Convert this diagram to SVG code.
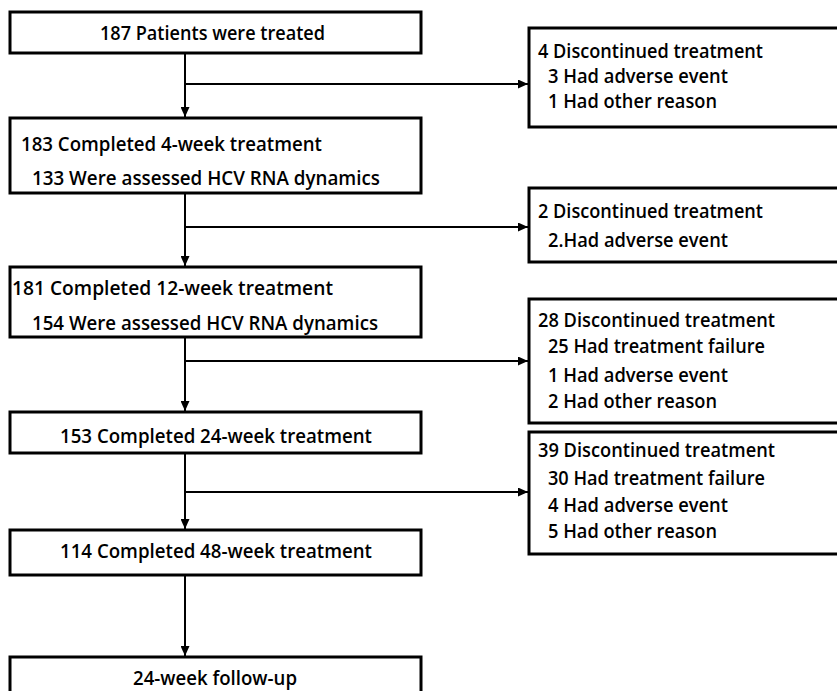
<svg xmlns="http://www.w3.org/2000/svg" width="837" height="691" viewBox="0 0 837 691">
<style>
.box{fill:#fff;stroke:#000;stroke-width:3}
.t{font-family:"Open Sans","Noto Sans","Liberation Sans",sans-serif;font-size:20px;font-weight:600;fill:#000}
.c{fill:none;stroke:#000;stroke-width:2}
</style>
<defs>
<marker id="ah" markerUnits="userSpaceOnUse" markerWidth="10" markerHeight="9" refX="10" refY="4.5" orient="auto">
<path d="M0,0 L10,4.5 L0,9 z" fill="#000"/>
</marker>
</defs>
<rect width="837" height="691" fill="#fff"/>
<g id="connectors">
<path class="c" d="M185,53 V117" marker-end="url(#ah)"/>
<path class="c" d="M185,193 V266" marker-end="url(#ah)"/>
<path class="c" d="M185,337 V411" marker-end="url(#ah)"/>
<path class="c" d="M185,453 V529" marker-end="url(#ah)"/>
<path class="c" d="M185,575 V656" marker-end="url(#ah)"/>
<path class="c" d="M185,84 H528" marker-end="url(#ah)"/>
<path class="c" d="M185,227 H528" marker-end="url(#ah)"/>
<path class="c" d="M185,361 H528" marker-end="url(#ah)"/>
<path class="c" d="M185,492 H528" marker-end="url(#ah)"/>
</g>
<g id="n1"><rect class="box" x="10" y="12" width="411" height="41"/>
<text class="t" x="100" y="40" textLength="225" lengthAdjust="spacingAndGlyphs">187 Patients were treated</text></g>
<g id="n2"><rect class="box" x="10" y="118" width="411" height="75"/>
<text class="t" x="21" y="151" textLength="301" lengthAdjust="spacingAndGlyphs">183 Completed 4-week treatment</text>
<text class="t" x="32" y="185" textLength="348" lengthAdjust="spacingAndGlyphs">133 Were assessed HCV RNA dynamics</text></g>
<g id="n3"><rect class="box" x="10" y="267" width="411" height="70"/>
<text class="t" x="12" y="295" textLength="321" lengthAdjust="spacingAndGlyphs">181 Completed 12-week treatment</text>
<text class="t" x="32" y="330" textLength="346" lengthAdjust="spacingAndGlyphs">154 Were assessed HCV RNA dynamics</text></g>
<g id="n4"><rect class="box" x="10" y="412" width="411" height="41"/>
<text class="t" x="60" y="443" textLength="312" lengthAdjust="spacingAndGlyphs">153 Completed 24-week treatment</text></g>
<g id="n5"><rect class="box" x="10" y="530" width="411" height="45"/>
<text class="t" x="60" y="558" textLength="312" lengthAdjust="spacingAndGlyphs">114 Completed 48-week treatment</text></g>
<g id="n6"><rect class="box" x="10" y="657" width="411" height="50"/>
<text class="t" x="133" y="685" textLength="164" lengthAdjust="spacingAndGlyphs">24-week follow-up</text></g>
<g id="r1"><rect class="box" x="529" y="28" width="320" height="99"/>
<text class="t" x="538" y="58" textLength="225" lengthAdjust="spacingAndGlyphs">4 Discontinued treatment</text>
<text class="t" x="548" y="83" textLength="180" lengthAdjust="spacingAndGlyphs">3 Had adverse event</text>
<text class="t" x="548" y="108" textLength="169" lengthAdjust="spacingAndGlyphs">1 Had other reason</text></g>
<g id="r2"><rect class="box" x="529" y="188" width="320" height="74"/>
<text class="t" x="538" y="218" textLength="225" lengthAdjust="spacingAndGlyphs">2 Discontinued treatment</text>
<text class="t" x="548" y="247" textLength="180" lengthAdjust="spacingAndGlyphs">2.Had adverse event</text></g>
<g id="r3"><rect class="box" x="529" y="299" width="320" height="124"/>
<text class="t" x="538" y="327" textLength="237" lengthAdjust="spacingAndGlyphs">28 Discontinued treatment</text>
<text class="t" x="548" y="353" textLength="217" lengthAdjust="spacingAndGlyphs">25 Had treatment failure</text>
<text class="t" x="548" y="382" textLength="180" lengthAdjust="spacingAndGlyphs">1 Had adverse event</text>
<text class="t" x="548" y="408" textLength="169" lengthAdjust="spacingAndGlyphs">2 Had other reason</text></g>
<g id="r4"><rect class="box" x="529" y="432" width="320" height="122"/>
<text class="t" x="538" y="457" textLength="237" lengthAdjust="spacingAndGlyphs">39 Discontinued treatment</text>
<text class="t" x="548" y="485" textLength="217" lengthAdjust="spacingAndGlyphs">30 Had treatment failure</text>
<text class="t" x="548" y="512" textLength="180" lengthAdjust="spacingAndGlyphs">4 Had adverse event</text>
<text class="t" x="548" y="538" textLength="169" lengthAdjust="spacingAndGlyphs">5 Had other reason</text></g>
</svg>
